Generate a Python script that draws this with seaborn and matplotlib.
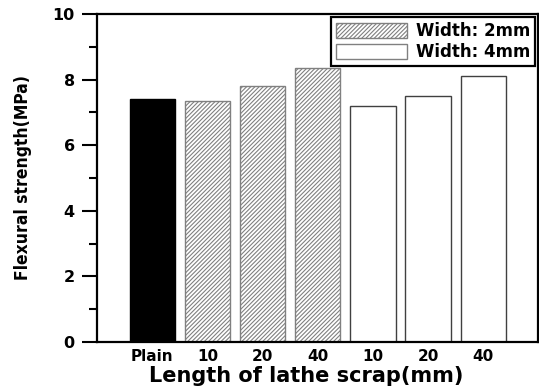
import matplotlib
matplotlib.use("Agg")
import matplotlib.pyplot as plt
from matplotlib.patches import Patch
from matplotlib.ticker import MultipleLocator
import seaborn as sns
import pandas as pd

sns.set_style("ticks")
plt.rcParams['font.family'] = ['DejaVu Sans']
plt.rcParams['text.color'] = 'black'
plt.rcParams['axes.labelcolor'] = 'black'
plt.rcParams['xtick.color'] = 'black'
plt.rcParams['ytick.color'] = 'black'
plt.rcParams['hatch.color'] = '#808080'
plt.rcParams['hatch.linewidth'] = 0.8

# data
positions = ["Plain", "10 (2mm)", "20 (2mm)", "40 (2mm)", "10 (4mm)", "20 (4mm)", "40 (4mm)"]
tick_labels = ["Plain", "10", "20", "40", "10", "20", "40"]
groups = ["Plain", "2mm", "2mm", "2mm", "4mm", "4mm", "4mm"]
strength = [7.42, 7.35, 7.81, 8.34, 7.20, 7.49, 8.10]

df = pd.DataFrame({"pos": positions, "group": groups, "strength": strength})

fig = plt.figure(figsize=(5.39, 3.88), dpi=100)
ax = fig.add_axes([0.18, 0.1186, 0.819, 0.8454])

sns.barplot(data=df, x="pos", y="strength", order=positions, width=0.82,
            color="white", ax=ax, saturation=1)

for bar, g in zip(ax.patches, groups):
    if g == "Plain":
        bar.set_facecolor("black")
        bar.set_edgecolor("black")
    elif g == "2mm":
        bar.set_facecolor("white")
        bar.set_edgecolor("#808080")
        bar.set_hatch("////////")
    else:
        bar.set_facecolor("white")
        bar.set_edgecolor("#404040")
    bar.set_linewidth(1.0)

ax.set_xlim(-1, 7)
ax.set_ylim(0, 10)
ax.yaxis.set_major_locator(MultipleLocator(2))
ax.yaxis.set_minor_locator(MultipleLocator(1))
ax.tick_params(axis="y", which="major", length=11, width=1.5, direction="out",
               labelsize=11.5, pad=5)
ax.tick_params(axis="y", which="minor", length=6, width=1.5, direction="out")
ax.tick_params(axis="x", length=0, labelsize=11, pad=5)
ax.set_xticks(range(len(tick_labels)))
ax.set_xticklabels(tick_labels, fontweight="bold")
for t in ax.get_yticklabels():
    t.set_fontweight("bold")

for s in ax.spines.values():
    s.set_visible(True)
    s.set_linewidth(1.6)
    s.set_color("black")

ax.set_xlabel("Length of lathe scrap(mm)", fontsize=15, fontweight="bold")
ax.xaxis.set_label_coords(0.474, -0.074, transform=ax.transAxes)
ax.xaxis.label.set_verticalalignment("top")
ax.set_ylabel("Flexural strength(MPa)", fontsize=12.5, fontweight="bold",
              fontstretch="condensed", labelpad=15)

handles = [Patch(facecolor="white", edgecolor="#808080", hatch="////////", label="Width: 2mm"),
           Patch(facecolor="white", edgecolor="#808080", label="Width: 4mm")]
leg = ax.legend(handles=handles, loc="upper right", fancybox=False, framealpha=1,
                edgecolor="black", prop={"weight": "bold", "size": 12},
                handlelength=4.3, handleheight=1.0, borderaxespad=0.2,
                labelspacing=0.15, borderpad=0.3, handletextpad=0.5)
leg.get_frame().set_linewidth(1.6)

fig.savefig("out.png", dpi=100)
